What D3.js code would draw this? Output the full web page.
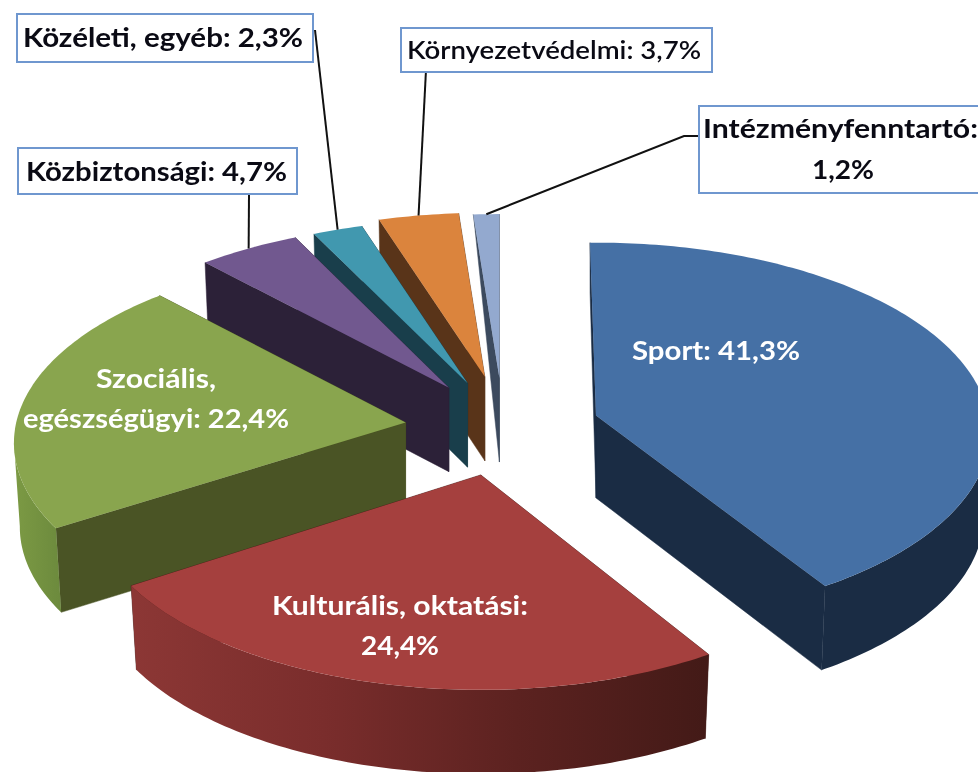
<!DOCTYPE html>
<html><head><meta charset="utf-8">
<style>html,body{margin:0;padding:0;background:#fff;overflow:hidden}svg{display:block;filter:blur(0.45px)}</style>
<script src="https://cdn.jsdelivr.net/npm/d3@7"></script>
</head><body><svg id="c" width="978" height="772"></svg>
<script>
// DATA
const categories = ["Sport","Kulturális, oktatási","Szociális, egészségügyi","Közbiztonsági","Közéleti, egyéb","Környezetvédelmi","Intézményfenntartó"];
const values = [41.3,24.4,22.4,4.7,2.3,3.7,1.2];
// STYLE
const topColors = ["#4570A5","#A5403E","#89A54E","#71588F","#4198AF","#DB843D","#93A9CF"];
const sideColors = ["#1A2C44","#431A17","#4A5425","#2C2138","#193E4B","#593419","#3C4A5E"];
// outer-wall shade, left to right across the wall
const wallStops = [
 ["#1A2C44","#1A2C44"],
 ["#8C3735","#7A2D2C","#5C2220","#431A17"],
 ["#7C9A44","#6C8A3D"],
 ["#2C2138","#2C2138"],["#193E4B","#193E4B"],["#593419","#593419"],["#3C4A5E","#3C4A5E"]];
// LAYOUT
const W=978,H=772;
const center=[503,425], explode=0.25, depth=84, persp=0.1346;
const nudge=[[-1,-6],[0,3],[0,-2],[0,-1],[0,0],[0,-4],[0,-2]];
const apexShift=[[0,9],[0,0],[0,5],[0,1],[0,0],[0,0],[0,0]];
const startPad=[-1,0,0,0,0,0,0];
const endPad=[0,0,-1.2,0,0,0,0];
const widthScale=[0.99,0.985,0.985,1,1,1,1];
const wallTaper=[0.6,1,1,1,1,1,0.02];
const drawOrder=[6,5,4,3,0,2,1];
const silhouetteCos=-0.13;
const boxes=[null,null,null,
 {x:18,y:148,w:279,h:46,lines:[{x:26,y:181,len:261}],fs:27,w8:700},
 {x:17,y:14,w:296,h:48,lines:[{x:23,y:47,len:280}],fs:27,w8:700},
 {x:401,y:28,w:311,h:44,lines:[{x:407,y:59,len:294}],fs:25,w8:400},
 {x:699,y:106,w:300,h:87,lines:[{x:703,y:138,len:275},{x:812,y:179,len:62}],fs:27,w8:700,twoLine:true}];
const leaderFrom=[null,null,null,[[249,195]],[[315,30]],[[426,70]],[[699,136],[684,136]]];
const innerLabels=[
 {i:0,lines:[{t:d=>`${categories[0]}: ${d}`,x:716,y:360,len:168}]},
 {i:1,lines:[{t:d=>"Kulturális, oktatási:",x:400,y:615,len:256},{t:d=>d,x:400,y:655,len:78}]},
 {i:2,lines:[{t:d=>"Szociális,",x:156,y:388,len:120},{t:d=>`egészségügyi: ${d}`,x:156,y:428,len:266}]}];

const fmt=v=>v.toFixed(1).replace(".",",")+"%";
const svg=d3.select("#c");
const defs=svg.append("defs");
const xS=d3.scaleLinear().domain([-1,1]).range([-394,394]);
const yS=d3.scaleLinear().domain([-1,1]).range([-186,186]);
// perspective projection of a ground-plane point (x right, y toward viewer)
const project=(x,y)=>{const k=1/(1-persp*y);return [xS(x)*k,yS(y)*k];};
const dir=a=>[Math.sin(a),-Math.cos(a)];
const pieGen=d3.pie().sort(null).startAngle(0).endAngle(2*Math.PI);
const arcs=pieGen(values);
const line=d3.line();
const rad=Math.PI/180;

const slices=arcs.map((d,i)=>{
  const s=d.startAngle+startPad[i]*rad, e=d.endAngle+endPad[i]*rad, mid=(d.startAngle+d.endAngle)/2;
  const [mx,my]=dir(mid), off=project(mx*explode,my*explode);
  const o=[center[0]+off[0]+nudge[i][0],center[1]+off[1]+nudge[i][1]];
  const pt=(a,sc=1,dy=0)=>{const[u,v]=dir(a),p=project(u,v);return [o[0]+p[0]*sc*widthScale[i],o[1]+p[1]+dy];};
  const apex=[o[0]+apexShift[i][0],o[1]+apexShift[i][1]];
  return {i,s,e,mid,o,pt,apex};
});

const gSl=svg.append("g");
drawOrder.forEach(i=>{
  const S=slices[i],g=gSl.append("g");
  const aDown=[S.apex[0],S.apex[1]+depth*(i===0?0.98:1)];
  // radial walls
  [[S.e,1],[S.s,wallTaper[i]]].forEach(([a,t])=>{
    const p=S.pt(a),b=S.pt(a,0.985,depth*t);
    g.append("path").attr("d",line([S.apex,p,b,aDown])+"Z").attr("fill",sideColors[i]).attr("stroke",sideColors[i]).attr("stroke-width",0.5);
  });
  // outer wall on the visible front of the rim, shaded across x
  const q=d3.range(S.s,S.e,1*rad).concat([S.e]).filter(a=>Math.cos(a)<=silhouetteCos);
  if(q.length>1){
    const up=q.map(a=>S.pt(a)),dn=q.map(a=>S.pt(a,0.985,depth)).reverse();
    const all=up.concat(dn),ex=d3.extent(all,p=>p[0]);
    const id="wall"+i,st=wallStops[i];
    const gr=defs.append("linearGradient").attr("id",id).attr("gradientUnits","userSpaceOnUse")
      .attr("x1",ex[0]).attr("x2",ex[1]).attr("y1",0).attr("y2",0);
    st.forEach((c,k)=>gr.append("stop").attr("offset",k/(st.length-1)).attr("stop-color",c));
    g.append("path").attr("d",line(all)+"Z").attr("fill",`url(#${id})`);
  }
  // top face
  const outer=d3.range(S.s,S.e,1*rad).concat([S.e]).map(a=>S.pt(a));
  g.append("path").attr("d",line([S.apex].concat(outer))+"Z").attr("fill",topColors[i]);
});

// leader lines
slices.forEach(S=>{
  const from=leaderFrom[S.i]; if(!from) return;
  svg.append("path").attr("d",line(from.concat([S.pt(S.mid)]))).attr("fill","none").attr("stroke","#111").attr("stroke-width",2);
});

const font="Lato, 'Open Sans', sans-serif";
// callout labels
boxes.forEach((b,i)=>{
  if(!b) return;
  svg.append("rect").attr("x",b.x).attr("y",b.y).attr("width",b.w).attr("height",b.h).attr("fill","#fff").attr("stroke","#6F97CF").attr("stroke-width",2);
  const texts=b.twoLine?[categories[i]+":",fmt(values[i])]:[`${categories[i]}: ${fmt(values[i])}`];
  texts.forEach((t,k)=>{
    const l=b.lines[k];
    svg.append("text").attr("x",l.x).attr("y",l.y).attr("font-family",font).attr("font-weight",b.w8===400?600:700).attr("font-size",b.fs)
      .attr("fill","#0a0a14").attr("textLength",l.len).attr("lengthAdjust","spacingAndGlyphs").text(t);
  });
});
// inner labels
innerLabels.forEach(L=>L.lines.forEach(l=>{
  svg.append("text").attr("x",l.x).attr("y",l.y).attr("text-anchor","middle").attr("font-family",font).attr("font-weight",700).attr("font-size",27)
    .attr("fill","#fff").attr("textLength",l.len).attr("lengthAdjust","spacingAndGlyphs").text(l.t(fmt(values[L.i])));
}));
</script></body></html>
